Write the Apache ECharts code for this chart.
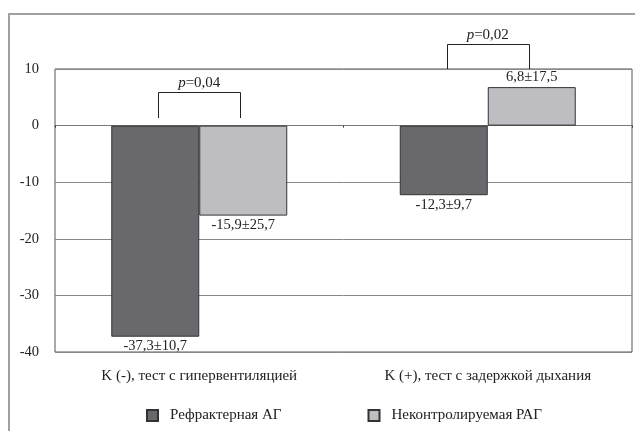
<!DOCTYPE html>
<html>
<head>
<meta charset="utf-8">
<script src="https://cdn.jsdelivr.net/npm/echarts@6/dist/echarts.min.js"></script>
<style>
  html, body { margin: 0; padding: 0; background: #fff; }
  #chart { width: 635px; height: 431px; }
</style>
</head>
<body>
<div id="chart"></div>
<script>
// Test categories
const categories = ['K (-), тест с гипервентиляцией', 'K (+), тест с задержкой дыхания'];
// Group means and standard deviations
const seriesNames = ['Рефрактерная АГ', 'Неконтролируемая РАГ'];
const refractoryMean = [-37.3, -12.3];
const refractorySd = [10.7, 9.7];
const uncontrolledMean = [-15.9, 6.8];
const uncontrolledSd = [25.7, 17.5];
// Significance brackets: category index, bracket top, leg bottom, p value
const pCategory = [0, 1];
const pTop = [6.0, 14.5];
const pLeg = [1.4, 10];
const pText = ['0,04', '0,02'];
// Y axis scale
const yMin = -40, yMax = 10, yStep = 10;

const FONT = '"Liberation Serif", "DejaVu Serif", serif';
const colors = ['#69696d', '#bebec2'];

function fmt(v) { return String(v).replace('.', ','); }

function barData(means, sds) {
  return means.map((m, i) => ({
    value: m,
    sd: sds[i],
    label: { position: m < 0 ? 'bottom' : 'top' }
  }));
}

function barSeries(name, means, sds, color) {
  return {
    name: name,
    type: 'bar',
    barGap: '0%',
    barCategoryGap: '39%',
    data: barData(means, sds),
    itemStyle: { color: color, borderColor: '#333', borderWidth: 1 },
    label: {
      show: true,
      distance: 2,
      fontFamily: FONT,
      fontSize: 14.5,
      color: '#222',
      formatter: p => fmt(p.data.value) + '±' + fmt(p.data.sd)
    },
    emphasis: { disabled: true },
    z: 3
  };
}

const bracketData = pCategory.map((c, i) => [c, pTop[i], pLeg[i], i]);

const option = {
  animation: false,
  backgroundColor: '#fff',
  grid: {
    left: 55, right: 3, top: 69, bottom: 79,
    show: true, borderColor: '#555', borderWidth: 1
  },
  xAxis: {
    type: 'category',
    data: categories,
    axisLine: { show: true, lineStyle: { color: '#777', width: 1 } },
    axisTick: { show: true, length: 2, lineStyle: { color: '#333' } },
    axisLabel: { fontFamily: FONT, fontSize: 15, color: '#222', margin: 17 },
    splitLine: { show: false }
  },
  yAxis: {
    type: 'value',
    min: yMin, max: yMax, interval: yStep,
    axisLine: { show: false },
    axisTick: { show: false },
    axisLabel: { fontFamily: FONT, fontSize: 14.5, color: '#222', margin: 16 },
    splitLine: { show: true, lineStyle: { color: '#888', width: 1 } }
  },
  legend: {
    data: seriesNames,
    top: 403,
    left: 141,
    itemWidth: 11,
    itemHeight: 11,
    itemGap: 86,
    icon: 'rect',
    selectedMode: false,
    textStyle: { fontFamily: FONT, fontSize: 15, color: '#222', padding: [0, 0, 0, 7] }
  },
  series: [
    barSeries(seriesNames[0], refractoryMean, refractorySd, colors[0]),
    barSeries(seriesNames[1], uncontrolledMean, uncontrolledSd, colors[1]),
    {
      type: 'custom',
      clip: false,
      silent: true,
      z: 5,
      data: bracketData,
      renderItem: function (params, api) {
        const c = api.value(0);
        const top = api.coord([c, api.value(1)]);
        const leg = api.coord([c, api.value(2)]);
        const band = api.size([1, 0])[0];
        const half = band * 0.142;
        const x0 = Math.round(top[0] - half) + 0.5;
        const x1 = Math.round(top[0] + half) + 0.5;
        const yt = Math.round(top[1]) + 0.5;
        const yl = Math.round(leg[1]);
        const idx = api.value(3);
        return {
          type: 'group',
          children: [
            {
              type: 'polyline',
              shape: { points: [[x0, yl], [x0, yt], [x1, yt], [x1, yl]] },
              style: { stroke: '#222', lineWidth: 1, fill: null }
            },
            {
              type: 'text',
              style: {
                x: top[0], y: yt - 2,
                text: '{i|p}=' + pText[idx],
                align: 'center',
                verticalAlign: 'bottom',
                fontFamily: FONT,
                fontSize: 15,
                fill: '#222',
                rich: { i: { fontStyle: 'italic', fontFamily: FONT, fontSize: 15, fill: '#222' } }
              }
            }
          ]
        };
      }
    }
  ],
  graphic: [
    { type: 'line', shape: { x1: 8, y1: 14, x2: 635, y2: 14 }, style: { stroke: '#a0a0a0', lineWidth: 2 } },
    { type: 'line', shape: { x1: 9, y1: 13, x2: 9, y2: 431 }, style: { stroke: '#a0a0a0', lineWidth: 2 } }
  ]
};

const chart = echarts.init(document.getElementById('chart'), null, { renderer: 'canvas' });
chart.setOption(option);
</script>
</body>
</html>
